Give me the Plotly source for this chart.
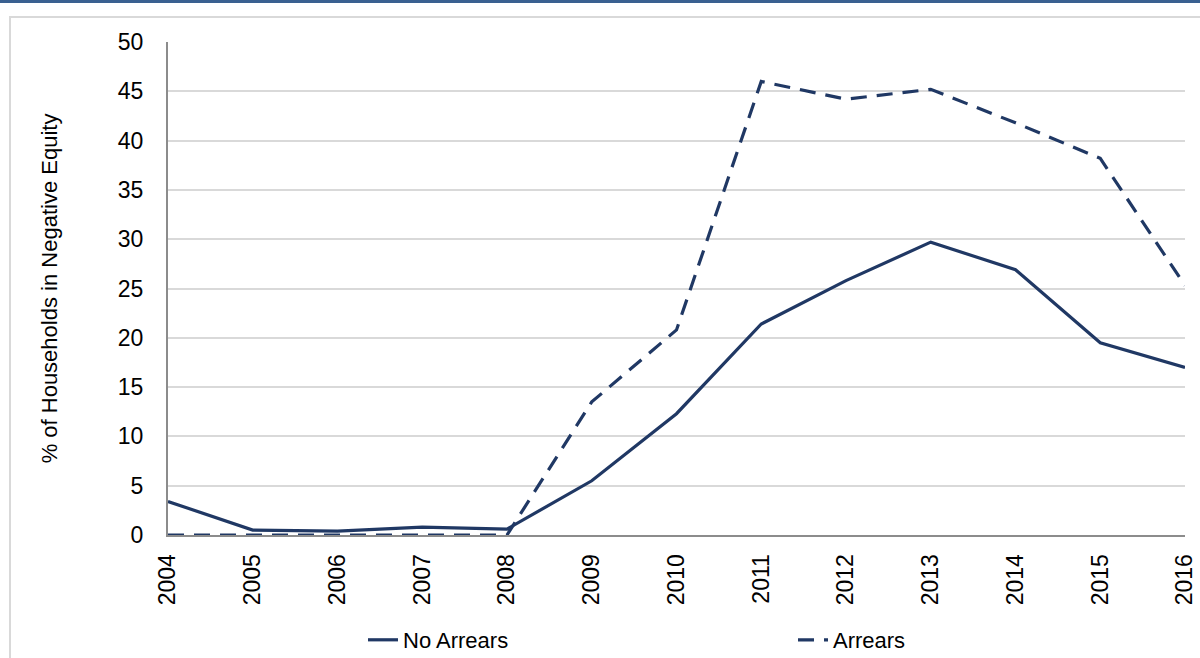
import plotly.graph_objects as go

years = [2004, 2005, 2006, 2007, 2008, 2009, 2010, 2011, 2012, 2013, 2014, 2015, 2016]
no_arrears = [3.4, 0.5, 0.4, 0.8, 0.6, 5.5, 12.3, 21.4, 25.8, 29.7, 26.9, 19.5, 17.0]
arrears = [0.0, 0.0, 0.0, 0.0, 0.0, 13.5, 20.8, 46.0, 44.2, 45.2, 41.8, 38.2, 25.3]
y_ticks = [0, 5, 10, 15, 20, 25, 30, 35, 40, 45, 50]

navy = "#203864"
font = "Liberation Sans"

fig = go.Figure()
fig.add_trace(go.Scatter(x=years, y=no_arrears, mode="lines", name="No Arrears",
                         line=dict(color=navy, width=3.2), legend="legend"))
fig.add_trace(go.Scatter(x=years, y=arrears, mode="lines", name="Arrears",
                         line=dict(color=navy, width=3.2, dash="16px,10px"), legend="legend2"))

L, R, T, B = 168, 1185, 42, 535
W, H = 1200, 658
def px(x):
    return (x - L) / (R - L)
def py(y):
    return (B - y) / (B - T)

leg_common = dict(orientation="h", xref="container", yref="container",
                  xanchor="left", yanchor="middle", font=dict(size=22),
                  bgcolor="rgba(0,0,0,0)")

fig.update_layout(
    width=W, height=H,
    margin=dict(l=L, r=W - R, t=T, b=H - B, autoexpand=False),
    paper_bgcolor="white", plot_bgcolor="white",
    font=dict(family=font, color="#000000", size=23),
    showlegend=True,
    legend=dict(x=363 / W, y=1 - 640 / H, **leg_common),
    legend2=dict(x=793 / W, y=1 - 640 / H, **leg_common),
    xaxis=dict(range=[2004, 2016], tickvals=years, ticktext=[str(y) for y in years],
               tickangle=-90, showgrid=False, showline=True, linecolor="#8c8c8c",
               linewidth=2, ticks="", zeroline=False, tickfont=dict(size=23),
               automargin=False, ticklabelstandoff=8),
    yaxis=dict(range=[0, 50], tickvals=y_ticks, showgrid=True, gridcolor="#d9d9d9",
               gridwidth=2, showline=True, linecolor="#8c8c8c", linewidth=2,
               ticks="", zeroline=False, tickfont=dict(size=23), automargin=False,
               ticklabelstandoff=18,
               title=dict(text="% of Households in Negative Equity",
                          font=dict(size=22), standoff=54)),
    shapes=[
        dict(type="rect", xref="paper", yref="paper", x0=px(0), x1=px(1200),
             y0=py(0), y1=py(3), fillcolor="#3a6090", line=dict(width=0), layer="below"),
        dict(type="rect", xref="paper", yref="paper", x0=px(10), x1=px(1260),
             y0=py(17), y1=py(700), fillcolor="rgba(0,0,0,0)",
             line=dict(color="#d9d9d9", width=2), layer="below"),
    ],
)

fig.write_html("out.html", config={"displayModeBar": False},
               post_script="document.body.style.margin='0';document.body.style.overflow='hidden';")
